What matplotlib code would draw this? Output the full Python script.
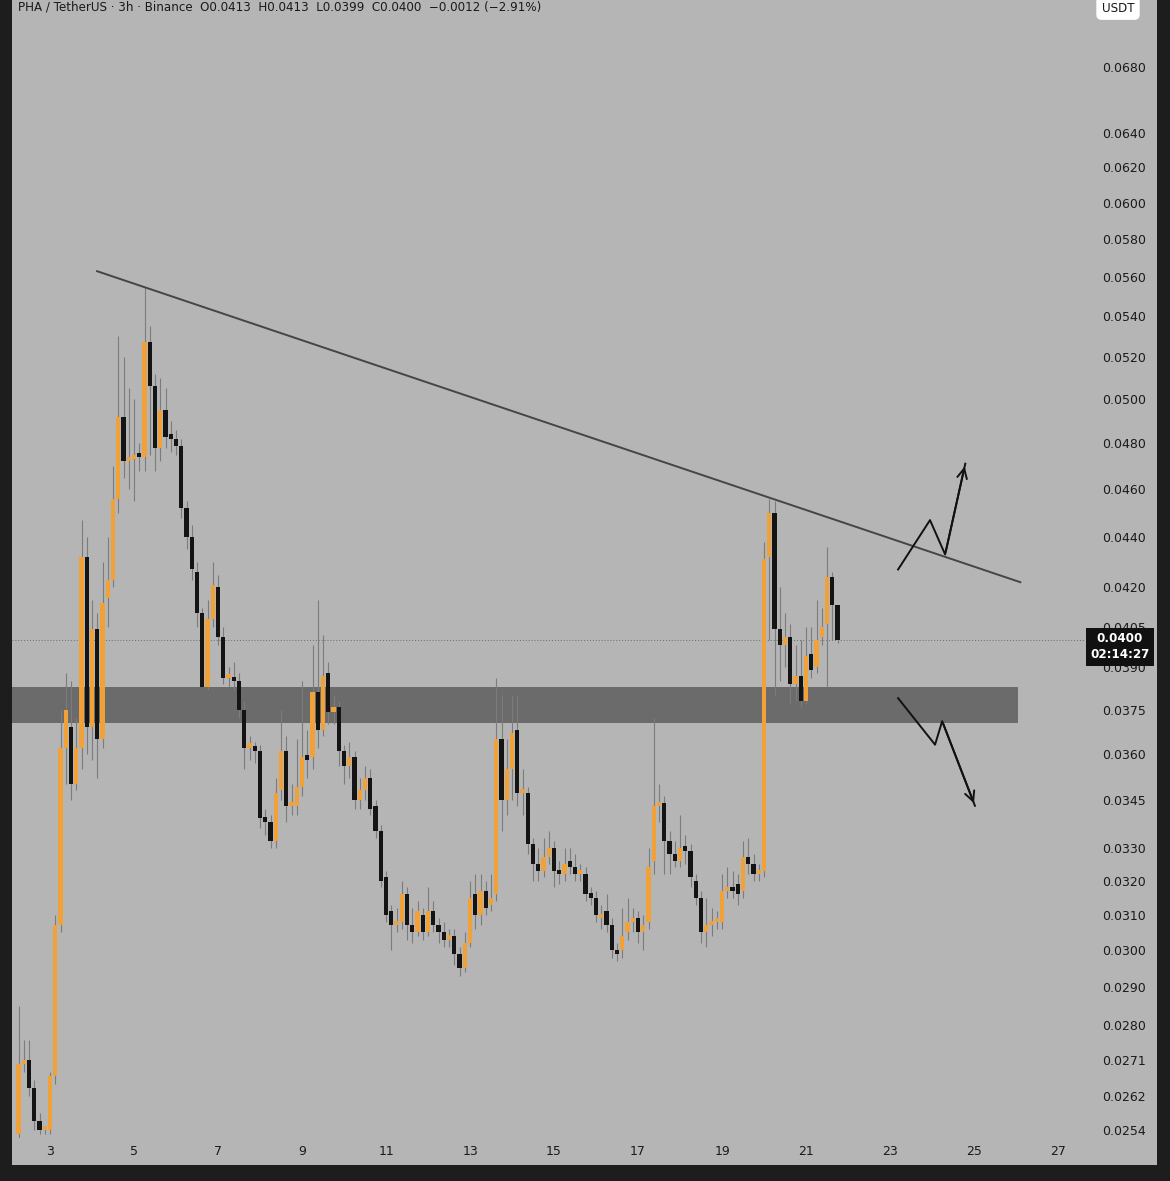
import numpy as np
import matplotlib
matplotlib.use("Agg")
import matplotlib.pyplot as plt

# ---- data (3h candles, first at Feb 2 06:00, day units) ----
start_day = 2.25
step_day = 0.125
opens = [.0253,.0270,.0271,.0264,.0256,.0254,.0254,.0267,.0307,.0362,
         .0369,.0350,.0362,.0432,.0369,.0404,.0365,.0416,.0423,.0456,
         .0492,.0472,.0473,.0475,.0474,.0527,.0506,.0478,.0495,.0483,
         .0482,.0479,.0452,.0440,.0426,.0410,.0383,.0408,.0420,.0401,
         .0386,.0386,.0385,.0375,.0362,.0362,.0361,.0339,.0338,.0332,
         .0348,.0361,.0343,.0343,.0349,.0359,.0359,.0381,.0368,.0388,
         .0374,.0376,.0361,.0356,.0359,.0345,.0348,.0352,.0343,.0335,
         .0321,.0311,.0307,.0308,.0316,.0307,.0305,.0310,.0305,.0311,
         .0307,.0305,.0303,.0304,.0299,.0295,.0302,.0316,.0310,.0317,
         .0313,.0316,.0365,.0345,.0355,.0368,.0347,.0347,.0331,.0325,
         .0323,.0327,.0330,.0323,.0322,.0326,.0324,.0322,.0322,.0316,
         .0315,.0309,.0311,.0307,.0300,.0300,.0305,.0308,.0309,.0305,
         .0308,.0326,.0343,.0344,.0332,.0328,.0326,.0330,.0329,.0320,
         .0315,.0305,.0307,.0308,.0308,.0317,.0318,.0319,.0317,.0327,
         .0325,.0322,.0323,.0432,.0450,.0404,.0398,.0401,.0384,.0387,
         .0378,.0395,.0390,.0401,.0406,.0424,.0413]
closes = [.0270,.0271,.0264,.0256,.0254,.0254,.0267,.0307,.0362,.0375,
          .0350,.0362,.0432,.0369,.0404,.0365,.0414,.0423,.0456,.0492,
          .0472,.0473,.0474,.0474,.0527,.0506,.0478,.0495,.0483,.0482,
          .0479,.0452,.0440,.0427,.0410,.0383,.0408,.0421,.0401,.0386,
          .0386,.0385,.0375,.0362,.0362,.0361,.0339,.0338,.0332,.0347,
          .0361,.0343,.0344,.0349,.0359,.0358,.0381,.0368,.0387,.0374,
          .0376,.0361,.0356,.0359,.0345,.0348,.0352,.0342,.0335,.0320,
          .0310,.0307,.0308,.0316,.0307,.0305,.0311,.0305,.0311,.0307,
          .0305,.0303,.0304,.0299,.0295,.0302,.0315,.0310,.0317,.0312,
          .0315,.0365,.0345,.0355,.0367,.0347,.0347,.0331,.0325,.0323,
          .0327,.0330,.0323,.0322,.0325,.0324,.0322,.0322,.0316,.0315,
          .0310,.0310,.0307,.0300,.0299,.0304,.0308,.0309,.0305,.0307,
          .0324,.0343,.0344,.0332,.0328,.0326,.0330,.0329,.0321,.0315,
          .0305,.0307,.0308,.0308,.0317,.0318,.0317,.0316,.0327,.0325,
          .0322,.0323,.0431,.0450,.0404,.0398,.0401,.0384,.0387,.0378,
          .0394,.0389,.0400,.0405,.0424,.0413,.0400]
highs = [.0285,.0276,.0276,.0266,.0258,.0255,.0268,.0310,.0375,.0388,
         .0385,.0372,.0447,.0440,.0415,.0410,.0430,.0440,.0470,.0530,
         .0520,.0505,.0500,.0480,.0555,.0535,.0512,.0510,.0505,.0490,
         .0486,.0482,.0455,.0445,.0430,.0412,.0415,.0430,.0425,.0405,
         .0390,.0392,.0388,.0378,.0366,.0364,.0363,.0342,.0340,.0352,
         .0375,.0366,.0350,.0365,.0385,.0368,.0398,.0415,.0402,.0392,
         .0380,.0378,.0363,.0364,.0361,.0352,.0356,.0355,.0345,.0337,
         .0323,.0313,.0312,.0320,.0318,.0312,.0314,.0312,.0318,.0314,
         .0309,.0308,.0306,.0306,.0301,.0305,.0320,.0322,.0322,.0320,
         .0322,.0386,.0380,.0365,.0380,.0380,.0355,.0349,.0333,.0330,
         .0333,.0335,.0332,.0326,.0330,.0330,.0328,.0325,.0324,.0318,
         .0317,.0313,.0316,.0309,.0302,.0312,.0315,.0312,.0311,.0310,
         .0330,.0372,.0350,.0346,.0335,.0332,.0340,.0334,.0331,.0322,
         .0317,.0315,.0312,.0311,.0322,.0324,.0323,.0322,.0332,.0333,
         .0328,.0325,.0438,.0456,.0455,.0420,.0410,.0406,.0398,.0400,
         .0405,.0405,.0415,.0412,.0436,.0426,.0413]
lows = [.0252,.0268,.0262,.0254,.0253,.0253,.0253,.0265,.0305,.0350,
        .0345,.0348,.0355,.0360,.0358,.0352,.0362,.0405,.0420,.0450,
        .0465,.0460,.0455,.0468,.0468,.0475,.0468,.0472,.0478,.0476,
        .0475,.0448,.0435,.0423,.0405,.0383,.0382,.0405,.0398,.0384,
        .0383,.0382,.0372,.0355,.0358,.0357,.0336,.0334,.0330,.0330,
        .0345,.0338,.0340,.0340,.0346,.0352,.0355,.0362,.0366,.0370,
        .0370,.0356,.0350,.0352,.0342,.0342,.0345,.0340,.0333,.0318,
        .0308,.0300,.0305,.0306,.0303,.0302,.0304,.0303,.0304,.0305,
        .0302,.0301,.0301,.0296,.0293,.0294,.0301,.0306,.0307,.0310,
        .0311,.0314,.0335,.0340,.0345,.0343,.0340,.0328,.0320,.0320,
        .0321,.0325,.0318,.0319,.0320,.0322,.0320,.0320,.0314,.0313,
        .0308,.0306,.0305,.0298,.0297,.0298,.0303,.0305,.0302,.0300,
        .0306,.0322,.0338,.0322,.0322,.0324,.0324,.0325,.0318,.0313,
        .0302,.0301,.0304,.0306,.0306,.0315,.0315,.0313,.0315,.0322,
        .0320,.0320,.0321,.0400,.0380,.0385,.0390,.0377,.0378,.0376,
        .0377,.0386,.0388,.0398,.0383,.0400,.0399]

price_ticks = [0.0254, 0.0262, 0.0271, 0.0280, 0.0290, 0.0300, 0.0310, 0.0320,
               0.0330, 0.0345, 0.0360, 0.0375, 0.0390, 0.0405, 0.0420, 0.0440,
               0.0460, 0.0480, 0.0500, 0.0520, 0.0540, 0.0560, 0.0580, 0.0600,
               0.0620, 0.0640, 0.0680]
day_ticks = [3, 5, 7, 9, 11, 13, 15, 17, 19, 21, 23, 25, 27]
trend_x = [4.12, 26.1]
trend_y = [0.0563, 0.0422]
zone_lo, zone_hi, zone_end = 0.03705, 0.0383, 26.05
up_x = [23.19, 23.95, 24.31, 24.79]
up_y = [0.0427, 0.0447, 0.0433, 0.0471]
dn_x = [23.19, 24.07, 24.24, 25.02]
dn_y = [0.0379, 0.0363, 0.0371, 0.0343]
last_price = 0.0400
header = "PHA / TetherUS · 3h · Binance  O0.0413  H0.0413  L0.0399  C0.0400  −0.0012 (−2.91%)"

# ---- figure ----
W, H = 1170, 1181
BG = "#b5b5b5"
ORANGE = "#f0a238"
DARK = "#141414"
fig = plt.figure(figsize=(W/100, H/100), dpi=100, facecolor="#1d1d1d")
bg = fig.add_axes([12/W, 1 - 1165/H, (1157-12)/W, 1165/H])
bg.set_facecolor(BG); bg.set_xticks([]); bg.set_yticks([])
for s in bg.spines.values(): s.set_visible(False)

ax = fig.add_axes([12/W, 1 - 1138/H, (1085-12)/W, 1138/H])
ax.set_facecolor(BG)
for s in ax.spines.values(): s.set_visible(False)
ax.set_yscale("log")
ax.set_xlim(2.095, 27.64)
ax.set_ylim(0.02521, 0.07239)

o = np.array(opens); c = np.array(closes); hi = np.array(highs); lo = np.array(lows)
x = start_day + step_day * np.arange(len(o))
up = c >= o
ax.vlines(x, lo, hi, color="#7c7c7c", lw=0.8, zorder=2)
bot = np.minimum(o, c)
ht = np.maximum(np.abs(c - o), bot * 0.004)
ax.bar(x[up], ht[up], bottom=bot[up], width=0.1, color=ORANGE, zorder=3)
ax.bar(x[~up], ht[~up], bottom=bot[~up], width=0.1, color=DARK, zorder=3)

ax.fill_between([2.095, zone_end], zone_lo, zone_hi, color="#6b6b6b", lw=0, zorder=1)
ax.plot(trend_x, trend_y, color="#454545", lw=1.4, zorder=4)
ax.axhline(last_price, color="#6a6a6a", lw=0.7, ls=(0, (1, 2)), zorder=1)

ax.plot(up_x, up_y, color="#111111", lw=1.4, zorder=5)
ax.annotate("", xy=(up_x[-1], up_y[-1]), xytext=(up_x[-2], up_y[-2]),
            arrowprops=dict(arrowstyle="->,head_length=0.7,head_width=0.35", color="#111111", lw=1.4))
ax.plot(dn_x, dn_y, color="#111111", lw=1.4, zorder=5)
ax.annotate("", xy=(dn_x[-1], dn_y[-1]), xytext=(dn_x[-2], dn_y[-2]),
            arrowprops=dict(arrowstyle="->,head_length=0.7,head_width=0.35", color="#111111", lw=1.4))

ax.yaxis.tick_right()
ax.set_yticks(price_ticks)
ax.set_yticklabels([f"{v:.4f}" for v in price_ticks])
ax.yaxis.set_minor_locator(matplotlib.ticker.NullLocator())
ax.tick_params(axis="y", length=0, pad=12, labelsize=9, labelcolor="#1a1a1a")
ax.set_xticks(day_ticks)
ax.set_xticklabels([str(d) for d in day_ticks])
ax.tick_params(axis="x", length=0, pad=5, labelsize=9, labelcolor="#1a1a1a")

ax.text(0.006, 0.9995, header, transform=ax.transAxes, ha="left", va="top",
        fontsize=8.6, color="#1a1a1a")
fig.text(1118/W, 1 - 8/H, "USDT", ha="center", va="center", fontsize=8.6, color="#1a1a1a",
         bbox=dict(boxstyle="round,pad=0.45", fc="white", ec="none"))
fig.text(1120/W, 1 - 647/H, "0.0400\n02:14:27", ha="center", va="center", fontsize=8.6,
         color="white", linespacing=1.3, fontweight="bold",
         bbox=dict(boxstyle="square,pad=0.35", fc="#111111", ec="none"))

fig.savefig("out.png", dpi=100, facecolor=fig.get_facecolor())
